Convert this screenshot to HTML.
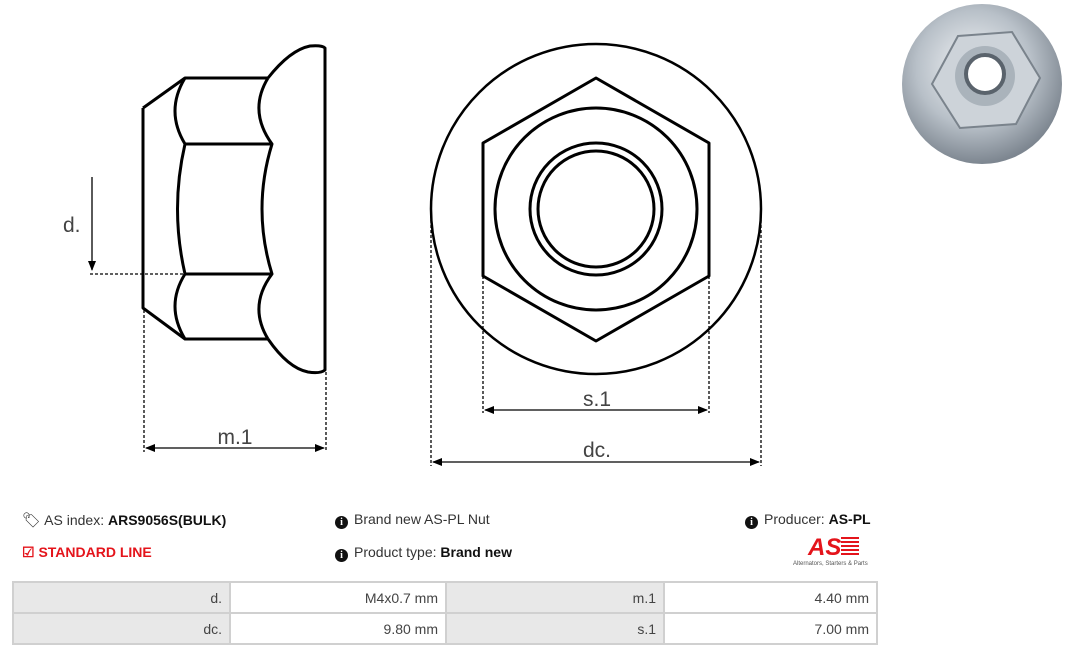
<!DOCTYPE html>
<html><head><meta charset="utf-8"><style>
body{margin:0;width:1080px;height:656px;background:#fff;font-family:"Liberation Sans",sans-serif;position:relative;overflow:hidden}
.t{position:absolute;font-size:14px;color:#333;white-space:nowrap}
.t b{color:#111}
.i{display:inline-block;width:13px;height:13px;border-radius:50%;background:#111;color:#fff;font:bold 10px/13px "Liberation Serif",serif;text-align:center;margin-right:6px;vertical-align:-1px}
table{position:absolute;left:12px;top:581px;border-collapse:collapse;width:866px}
td{border:2px solid #d0d0d0;height:29px;font-size:14px;color:#444;text-align:right;padding:0 7px}
td.g{background:#e8e8e8}
</style></head><body>
<svg width="1080" height="500" style="position:absolute;left:0;top:0" fill="none" stroke="#000">
<defs><marker id="a" markerWidth="10" markerHeight="8" refX="9" refY="4" orient="auto-start-reverse" markerUnits="userSpaceOnUse"><path d="M0,0L10,4L0,8z" fill="#000" stroke="none"/></marker>
<radialGradient id="m" cx="45%" cy="40%" r="60%"><stop offset="0" stop-color="#f4f6f8"/><stop offset=".6" stop-color="#b8c0c8"/><stop offset="1" stop-color="#7d8690"/></radialGradient></defs>
<g stroke-width="3" stroke-linejoin="round">
<path d="M143,108 L185,78 L268,78 M143,108 L143,308 L185,339 L268,339"/>
<path d="M185,144H272M185,274H272"/>
<path d="M185,78 Q165,111 185,144 Q170,209 185,274 Q165,306 185,339"/>
<path d="M268,78 Q248,111 272,144 Q252,209 272,274 Q248,306 268,339"/>
<path d="M268,78 Q290,50 310,46 Q322,45 325,48 L325,370 Q320,374 308,372 Q288,368 268,339"/>
<circle cx="596" cy="209" r="165" stroke-width="2.5"/>
<path d="M596,78 L709,143 L709,276 L596,341 L483,276 L483,143Z"/>
<circle cx="596" cy="209" r="101"/>
<circle cx="596" cy="209" r="66"/>
<circle cx="596" cy="209" r="58"/>
</g>
<g stroke-width="1.3" stroke-dasharray="3,2">
<path d="M90,274H185M144,310V452M326,372V452M483,276V413M709,276V413M431,215V466M761,215V466"/>
</g>
<g stroke-width="1.3">
<path d="M92,177V270" marker-end="url(#a)"/>
<path d="M146,448H324" marker-start="url(#a)" marker-end="url(#a)"/>
<path d="M485,410H707" marker-start="url(#a)" marker-end="url(#a)"/>
<path d="M433,462H759" marker-start="url(#a)" marker-end="url(#a)"/>
</g>
<g fill="#444" stroke="none" font-size="21" font-family="Liberation Sans">
<text x="63" y="232">d.</text>
<text x="235" y="444" text-anchor="middle">m.1</text>
<text x="597" y="406" text-anchor="middle">s.1</text>
<text x="597" y="457" text-anchor="middle">dc.</text>
</g>
<g stroke="none">
<circle cx="982" cy="84" r="80" fill="url(#m)"/>
<path d="M958,36 L1012,32 L1040,78 L1016,124 L960,128 L932,84Z" fill="#cdd3d9" stroke="#7a838c" stroke-width="2"/>
<circle cx="985" cy="76" r="30" fill="#aab3bb"/>
<circle cx="985" cy="74" r="19" fill="#fff" stroke="#5a636c" stroke-width="4"/>
</g>
</svg>
<div class="t" style="left:22px;top:511px"><span style="font-size:15px">&#x1F3F7;&#xFE0E;</span> AS index: <b>ARS9056S(BULK)</b></div>
<div class="t" style="left:22px;top:544px;color:#e4141b;font-weight:bold">&#9745; STANDARD LINE</div>
<div class="t" style="left:335px;top:511px"><span class="i">i</span>Brand new AS-PL Nut</div>
<div class="t" style="left:335px;top:544px"><span class="i">i</span>Product type: <b>Brand new</b></div>
<div class="t" style="left:745px;top:511px"><span class="i">i</span>Producer: <b>AS-PL</b></div>
<div style="position:absolute;left:808px;top:535px;width:58px;height:25px;color:#e4141b;font:italic bold 24px 'Liberation Sans',sans-serif;line-height:25px">AS<span style="display:inline-block;width:18px;height:20px;background:repeating-linear-gradient(#e4141b 0 2px,#fff 2px 4px);vertical-align:-2px"></span></div>
<div class="t" style="left:793px;top:561px;font-size:6px;color:#555">Alternators, Starters &amp; Parts</div>
<table><tr><td class="g" style="width:201px">d.</td><td style="width:200px">M4x0.7 mm</td><td class="g" style="width:202px">m.1</td><td>4.40 mm</td></tr>
<tr><td class="g">dc.</td><td>9.80 mm</td><td class="g">s.1</td><td>7.00 mm</td></tr></table>
</body></html>
